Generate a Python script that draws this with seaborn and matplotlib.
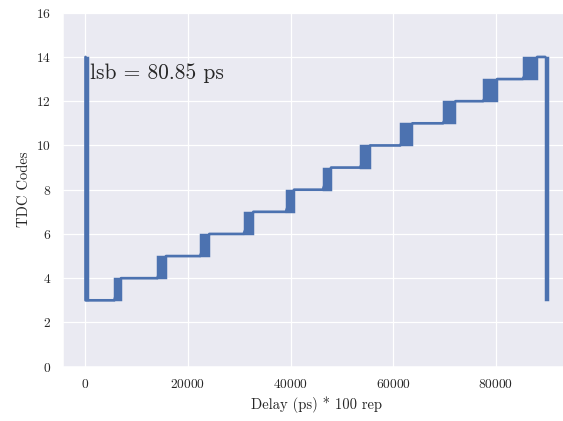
import numpy as np
import pandas as pd
import matplotlib
matplotlib.use("Agg")
import matplotlib.pyplot as plt
import seaborn as sns

# codigos del TDC y bordes de cada transicion (ps * 100 rep)
codigos = [3, 4, 5, 6, 7, 8, 9, 10, 11, 12, 13]
trans_ini = [5706, 14080, 22395, 30866, 39085, 46290, 53554, 61344, 69659, 77449, 85161]
trans_fin = [7011, 15774, 24206, 32775, 40701, 47907, 55501, 63739, 72113, 80234, 88024]
# saltos grandes al principio y al final (14 -> 3)
salto_ini = [100, 89580]
salto_fin = [550, 90150]
codigo_max = 14
codigo_min = 3
lsb = 80.85

# armar la escalera (tramos horizontales) a partir de los bordes
xs = [salto_ini[0], salto_ini[0]]
ys = [codigo_max, codigo_min]
for c, a, b in zip(codigos, trans_ini, trans_fin):
    xs += [a, b]
    ys += [c, c + 1]
xs += [salto_ini[1]]
ys += [codigo_max]
datos = pd.DataFrame({"delay": xs, "codigo": ys})

sns.set_theme(style="darkgrid")
plt.rcParams["font.family"] = ["cmr10", "DejaVu Sans"]
plt.rcParams["axes.formatter.use_mathtext"] = True
plt.rcParams["mathtext.fontset"] = "cm"

color = sns.color_palette("deep")[0]
fig = plt.figure(figsize=(563 / 88, 421 / 88), dpi=88)
ax = fig.add_axes([62.7 / 563, 1 - 366.7 / 421, (570 - 62.7) / 563, (366.7 - 12.7) / 421])

sns.lineplot(data=datos, x="delay", y="codigo", sort=False, estimator=None,
             color=color, linewidth=2.2, ax=ax)
# las transiciones donde el codigo salta entre dos valores
ax.bar(trans_ini, 1, width=np.array(trans_fin) - np.array(trans_ini), bottom=codigos,
       align="edge", color=color, edgecolor=color, linewidth=1.2)
ax.bar(salto_ini, codigo_max - codigo_min, width=np.array(salto_fin) - np.array(salto_ini),
       bottom=codigo_min, align="edge", color=color, edgecolor=color, linewidth=1.2)

ax.set_xlim(-4340, 94400)
ax.set_ylim(0, 16)
ax.set_yticks(range(0, 17, 2))
ax.set_xlabel("Delay (ps) * 100 rep")
ax.set_ylabel("TDC Codes")
ax.text(900, 13, f"lsb = {lsb} ps", fontsize=17.6, color="#262626")

plt.savefig("out.png", dpi=88)
